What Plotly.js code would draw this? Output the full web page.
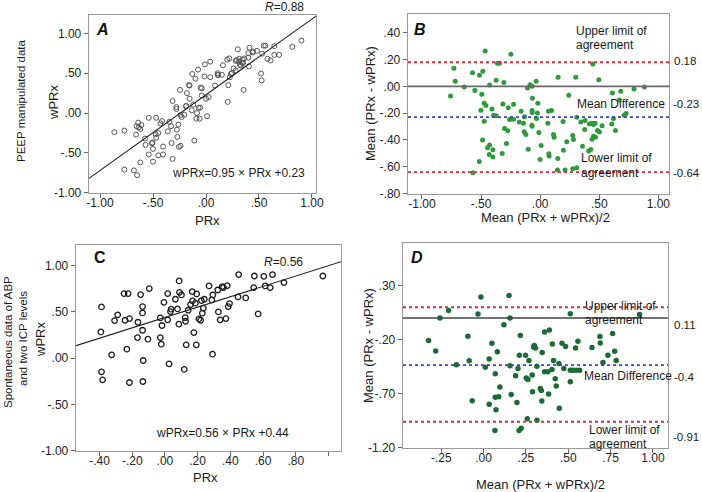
<!DOCTYPE html>
<html>
<head>
<meta charset="utf-8">
<script src="https://cdn.plot.ly/plotly-3.0.1.min.js"></script>
<style>
  html, body { margin: 0; padding: 0; background: #fff; }
  #chart { width: 702px; height: 492px; }
</style>
</head>
<body>
<div id="chart"></div>
<script>
// Panel A: PEEP manipulated data, wPRx vs PRx
const A_prx = [-0.865,-0.77,-0.77,-0.68,-0.65,-0.62,-0.66,-0.655,-0.64,-0.635,-0.61,-0.62,-0.575,-0.57,-0.54,-0.54,-0.51,-0.505,-0.50,-0.50,-0.47,-0.475,-0.47,-0.45,-0.45,-0.43,-0.415,-0.405,-0.405,-0.36,-0.345,-0.33,-0.325,-0.315,-0.315,-0.28,-0.28,-0.275,-0.27,-0.26,-0.255,-0.245,-0.24,-0.24,-0.23,-0.205,-0.19,-0.185,-0.18,-0.16,-0.155,-0.155,-0.135,-0.13,-0.12,-0.11,-0.10,-0.09,-0.085,-0.075,-0.07,-0.06,-0.055,-0.05,-0.04,-0.04,-0.015,-0.01,0.01,0.0,0.025,0.04,0.04,0.085,0.11,0.115,0.11,0.15,0.16,0.205,0.21,0.20,0.22,0.225,0.235,0.245,0.26,0.28,0.28,0.29,0.30,0.31,0.315,0.32,0.33,0.34,0.345,0.35,0.355,0.36,0.40,0.405,0.40,0.41,0.44,0.445,0.48,0.52,0.525,0.53,0.545,0.56,0.58,0.61,0.645,0.69,0.815,0.90,0.645];
const A_wprx = [-0.24,-0.22,-0.71,-0.72,-0.78,-0.62,-0.27,-0.165,-0.12,-0.18,-0.15,-0.20,-0.32,-0.40,-0.06,-0.52,-0.38,-0.37,-0.61,-0.45,-0.06,-0.265,-0.31,-0.53,-0.25,-0.13,-0.10,-0.42,-0.52,-0.23,-0.11,-0.165,-0.375,-0.575,0.15,0.075,0.05,-0.21,-0.30,-0.145,-0.425,0.29,-0.41,-0.025,-0.05,-0.02,0.085,0.09,0.25,0.35,0.345,0.18,0.035,0.49,0.105,-0.345,0.43,-0.07,0.0,0.545,0.065,-0.07,0.07,0.32,0.22,0.31,0.46,0.61,-0.04,0.18,0.20,0.645,0.45,0.345,0.48,0.475,0.50,0.48,0.60,0.14,0.35,0.67,0.685,0.45,0.49,0.50,0.56,0.535,0.655,0.665,0.80,0.645,0.68,0.605,0.595,0.63,0.67,0.63,0.29,0.685,0.695,0.585,0.75,0.82,0.76,0.77,0.78,0.495,0.41,0.745,0.845,0.845,0.68,0.66,0.73,0.73,0.83,0.91,0.84];
const A_fit = { slope: 0.95, intercept: 0.23 };

// Panel B: Bland-Altman, PEEP data
const B_mean = [-0.465,-0.248,-0.361,-0.344,-0.730,-0.572,-0.485,-0.513,-0.718,-0.372,-0.307,-0.428,-0.642,-0.758,-0.552,-0.493,-0.107,-0.085,-0.068,-0.034,-0.065,-0.473,-0.459,-0.315,-0.225,-0.270,-0.020,-0.501,-0.408,-0.394,-0.372,-0.161,-0.068,-0.068,-0.023,0.070,0.096,-0.132,-0.248,-0.225,-0.259,-0.031,-0.473,-0.177,-0.141,-0.070,-0.068,0.065,-0.301,-0.273,-0.135,-0.121,-0.011,0.113,0.118,-0.487,-0.428,-0.445,-0.400,-0.285,-0.321,-0.431,-0.400,-0.101,0.008,0.073,0.076,0.000,-0.515,-0.569,0.445,0.152,0.301,0.496,0.611,0.682,0.794,0.882,0.242,0.670,0.727,0.710,0.310,0.620,0.194,0.344,0.380,0.606,0.417,0.437,0.451,0.465,0.524,0.485,0.501,0.377,0.637,0.276,0.451,0.468,0.439,0.282,0.225,0.358,0.428,0.411,0.197,0.149,0.146,0.211,0.276,0.310];
const B_diff = [0.264,0.239,0.172,0.172,0.135,0.102,0.112,0.083,0.038,0.045,0.028,0.011,-0.004,-0.071,-0.031,-0.059,-0.012,0.013,0.001,0.038,-0.089,-0.126,-0.143,-0.131,-0.133,-0.160,-0.126,-0.178,-0.168,-0.215,-0.220,-0.185,-0.180,-0.195,-0.198,-0.185,-0.180,-0.227,-0.242,-0.245,-0.247,-0.240,-0.260,-0.265,-0.275,-0.290,-0.298,-0.275,-0.315,-0.332,-0.339,-0.359,-0.344,-0.359,-0.379,-0.401,-0.438,-0.458,-0.473,-0.426,-0.500,-0.508,-0.527,-0.470,-0.441,-0.503,-0.520,-0.545,-0.560,-0.644,0.167,0.068,0.068,0.050,-0.049,-0.036,-0.019,-0.004,-0.066,-0.101,-0.203,-0.215,-0.230,-0.240,-0.263,-0.265,-0.255,-0.280,-0.280,-0.275,-0.285,-0.275,-0.293,-0.330,-0.340,-0.322,-0.330,-0.367,-0.372,-0.379,-0.394,-0.397,-0.414,-0.446,-0.471,-0.483,-0.476,-0.538,-0.624,-0.624,-0.615,-0.608];
const B_limits = [0.18, -0.23, -0.64];   // upper, mean, lower
const B_limitText = ['0.18', '-0.23', '-0.64'];

// Panel C: spontaneous data of ABP and two ICP levels
const C_prx = [0.087,-0.096,-0.250,-0.225,-0.149,0.017,0.089,0.101,0.167,0.194,0.064,-0.006,0.169,0.186,0.223,0.241,-0.388,-0.137,0.157,0.038,0.034,0.077,0.142,0.235,-0.289,-0.137,0.229,-0.308,-0.244,-0.217,-0.028,0.017,0.124,0.208,0.218,-0.165,0.126,-0.018,0.085,-0.137,-0.392,0.177,-0.168,-0.104,-0.028,-0.022,0.130,0.192,-0.233,-0.326,-0.133,0.025,0.118,-0.388,-0.381,-0.217,-0.135,0.451,0.547,0.605,0.658,0.966,0.270,0.350,0.358,0.381,0.323,0.543,0.613,0.644,0.728,0.287,0.293,0.447,0.494,0.395,0.387,0.327,0.338,0.373,0.570,0.291];
const C_wprx = [0.835,0.752,0.698,0.698,0.687,0.698,0.712,0.683,0.719,0.694,0.637,0.604,0.619,0.594,0.622,0.637,0.554,0.558,0.579,0.529,0.504,0.532,0.518,0.540,0.468,0.489,0.486,0.406,0.410,0.428,0.435,0.414,0.439,0.424,0.410,0.388,0.399,0.353,0.367,0.302,0.284,0.277,0.223,0.205,0.223,0.151,0.144,0.144,0.097,0.036,-0.025,-0.061,-0.122,-0.147,-0.234,-0.263,-0.252,0.903,0.888,0.885,0.903,0.888,0.781,0.773,0.763,0.784,0.737,0.763,0.781,0.763,0.817,0.629,0.683,0.662,0.651,0.590,0.558,0.500,0.414,0.428,0.478,0.043];
const C_fit = { slope: 0.56, intercept: 0.44 };

// Panel D: Bland-Altman, spontaneous data
const D_mean = [-0.016,0.150,-0.207,-0.258,-0.033,0.156,0.120,-0.325,-0.093,0.217,-0.283,0.049,0.081,-0.161,-0.085,0.010,0.033,0.069,0.156,0.211,0.248,0.268,0.203,0.189,0.252,0.262,0.096,-0.067,0.069,0.089,0.163,0.033,0.197,0.073,0.258,0.067,0.209,0.222,0.512,0.921,0.360,0.388,0.299,0.307,0.295,0.406,0.463,0.484,0.557,0.543,0.640,0.687,0.689,0.762,0.734,0.774,0.346,0.315,0.413,0.445,0.474,0.512,0.528,0.547,0.567,0.287,0.360,0.380,0.404,0.512,0.423,0.289,0.335,0.341,0.384,0.429,0.344,0.447,0.315,0.705,0.783];
const D_diff = [0.195,0.208,0.069,0.001,0.038,0.001,-0.063,-0.208,-0.168,-0.162,-0.304,-0.233,-0.313,-0.433,-0.396,-0.455,-0.378,-0.516,-0.442,-0.344,-0.344,-0.393,-0.467,-0.535,-0.556,-0.568,-0.639,-0.766,-0.732,-0.729,-0.707,-0.799,-0.781,-0.849,-0.932,-1.040,-1.040,-1.021,0.041,0.032,-0.128,-0.110,-0.254,-0.276,-0.267,-0.239,-0.233,-0.264,-0.214,-0.276,-0.273,-0.171,-0.230,-0.143,-0.344,-0.307,-0.319,-0.445,-0.393,-0.421,-0.467,-0.482,-0.482,-0.482,-0.482,-0.528,-0.498,-0.498,-0.476,-0.590,-0.562,-0.682,-0.652,-0.670,-0.704,-0.630,-0.769,-0.836,-0.947,-0.411,-0.393];
const D_limits = [0.10, -0.435, -0.96];  // upper, mean, lower (as drawn)
const D_limitText = ['0.11', '-0.4', '-0.91'];

// tick labels
const tickA = [-1, -0.5, 0, 0.5, 1];
const tickAText = ['-1.00', '-.50', '.00', '.50', '1.00'];
const tickBy = [-0.8, -0.6, -0.4, -0.2, 0, 0.2, 0.4];
const tickByText = ['-.80', '-.60', '-.40', '-.20', '.00', '.20', '.40'];
const tickCx = [-0.4, -0.2, 0, 0.2, 0.4, 0.6, 0.8, 1.0];
const tickCxText = ['-.40', '-.20', '.00', '.20', '.40', '.60', '.80', ''];
const tickDx = [-0.25, 0, 0.25, 0.5, 0.75, 1.0];
const tickDxText = ['-.25', '.00', '.25', '.50', '.75', '1.00'];
const tickDy = [-1.2, -0.7, -0.2, 0.3];
const tickDyText = ['-1.20', '-.70', '-.20', '.30'];

const W = 702, H = 492;
const FONT = 'Liberation Sans, Arial, sans-serif';
const px = x => x / W;
const py = y => 1 - y / H;

const RANGES = {
  A: { x: [-1.104, 1.038], y: [-1.003, 1.23] },
  B: { x: [-1.118, 1.09], y: [-0.803, 0.54] },
  C: { x: [-0.544, 1.077], y: [-1.003, 1.223] },
  D: { x: [-0.476, 1.089], y: [-1.203, 0.695] }
};

function fitLine(f, r, xa, ya) {
  return {
    x: r, y: r.map(v => f.slope * v + f.intercept), xaxis: xa, yaxis: ya,
    mode: 'lines', line: { color: '#222', width: 1.1 }, hoverinfo: 'skip'
  };
}

const traces = [
  { x: A_prx, y: A_wprx, xaxis: 'x', yaxis: 'y', mode: 'markers',
    marker: { symbol: 'circle-open', size: 5, color: '#555', line: { width: 1 } } },
  fitLine(A_fit, RANGES.A.x, 'x', 'y'),
  { x: B_mean, y: B_diff, xaxis: 'x2', yaxis: 'y2', mode: 'markers',
    marker: { size: 5, color: '#2f9a3b' } },
  { x: C_prx, y: C_wprx, xaxis: 'x3', yaxis: 'y3', mode: 'markers',
    marker: { symbol: 'circle-open', size: 5.5, color: '#1a1a1a', line: { width: 1.3 } } },
  fitLine(C_fit, RANGES.C.x, 'x3', 'y3'),
  { x: D_mean, y: D_diff, xaxis: 'x4', yaxis: 'y4', mode: 'markers',
    marker: { size: 5.5, color: '#1c6b34' } }
];

function axis(domain, range, tv, tt, anchor, isX) {
  return {
    domain: domain, range: range, anchor: anchor, tickvals: tv, ticktext: tt,
    ticks: 'outside', ticklen: 4, tickcolor: '#666', tickwidth: 1,
    ticklabelstandoff: isX ? -6 : 0,
    showline: true, mirror: true, linecolor: '#999', linewidth: 1.3,
    showgrid: false, zeroline: false, fixedrange: true,
    tickfont: { family: FONT, size: 12, color: '#222' }
  };
}

// reference lines in the Bland-Altman panels
const RED = '#cf3040', BLUE = '#3a44c4';
function hline(y, xa, ya, color, dash, width) {
  return { type: 'line', xref: xa + ' domain', yref: ya, x0: 0, x1: 1, y0: y, y1: y,
           line: { color: color, width: width, dash: dash } };
}
const shapes = [
  hline(0, 'x2', 'y2', '#6a6a6a', 'solid', 1.8),
  hline(B_limits[0], 'x2', 'y2', RED, 'dot', 1.8),
  hline(B_limits[1], 'x2', 'y2', BLUE, 'dot', 1.8),
  hline(B_limits[2], 'x2', 'y2', RED, 'dot', 1.8),
  hline(0, 'x4', 'y4', '#444', 'solid', 1.4),
  hline(D_limits[0], 'x4', 'y4', RED, 'dot', 1.8),
  hline(D_limits[1], 'x4', 'y4', BLUE, 'dot', 1.8),
  hline(D_limits[2], 'x4', 'y4', RED, 'dot', 1.8)
];

function note(text, x, y, opts) {
  return Object.assign({
    text: text, xref: 'paper', yref: 'paper', x: px(x), y: py(y),
    showarrow: false, xanchor: 'center', yanchor: 'middle',
    font: { family: FONT, size: 12, color: '#1a1a1a' }
  }, opts || {});
}
const big = { family: FONT, size: 16, color: '#111' };
const title = { family: FONT, size: 13, color: '#1a1a1a' };
const side = { family: FONT, size: 11.5, color: '#1a1a1a' };
const left = { xanchor: 'left' };
const lim = { xanchor: 'left', font: { family: FONT, size: 11.5, color: '#1a1a1a' } };

const annotations = [
  // A
  note('<b><i>A</i></b>', 102, 29, { font: big }),
  note('<i>R</i>=0.88', 306, 7, { xanchor: 'right' }),
  note('wPRx=0.95 × PRx +0.23', 238, 173),
  note('PRx', 207, 220, { font: title }),
  note('wPRx', 53, 103, { textangle: -90, font: title }),
  note('PEEP manipulated data', 21, 101, { textangle: -90, font: side }),
  // B
  note('<b><i>B</i></b>', 420, 29, { font: big }),
  note('Upper limit of', 574, 31, left),
  note('agreement', 574, 45, left),
  note('Mean Difference', 575, 104, left),
  note('Lower limit of', 579, 158, left),
  note('agreement', 579, 173, left),
  note(B_limitText[0], 672, 61, lim),
  note(B_limitText[1], 671, 104, lim),
  note(B_limitText[2], 671, 173, lim),
  note('Mean (PRx - wPRx)', 370, 104, { textangle: -90, font: title }),
  note('Mean (PRx + wPRx)/2', 545, 217, { font: title }),
  // C
  note('<b>C</b>', 100, 257, { font: big }),
  note('<i>R</i>=0.56', 283, 262),
  note('wPRx=0.56 × PRx +0.44', 222, 433),
  note('PRx', 205, 477, { font: title }),
  note('wPRx', 40, 340, { textangle: -90, font: title }),
  note('Spontaneous data of ABP', 8, 342, { textangle: -90, font: side }),
  note('and two ICP levels', 23, 339, { textangle: -90, font: side }),
  // D
  note('<b><i>D</i></b>', 417, 257, { font: big }),
  note('Upper limit of', 583, 306, left),
  note('agreement', 583, 320, left),
  note('Mean Difference', 582, 376, left),
  note('Lower limit of', 587, 430, left),
  note('agreement', 587, 444, left),
  note(D_limitText[0], 672, 325, lim),
  note(D_limitText[1], 672, 377, lim),
  note(D_limitText[2], 671, 437, lim),
  note('Mean (PRx - wPRx)', 368, 346, { textangle: -90, font: title }),
  note('Mean (PRx + wPRx)/2', 540, 484, { font: title })
];

const layout = {
  width: W, height: H, margin: { l: 0, r: 0, t: 0, b: 0 },
  paper_bgcolor: '#fff', plot_bgcolor: '#fff', showlegend: false,
  font: { family: FONT },
  xaxis:  axis([px(89), px(316)], RANGES.A.x, tickA, tickAText, 'y', true),
  yaxis:  axis([py(193), py(15)], RANGES.A.y, tickA, tickAText, 'x', false),
  xaxis2: axis([px(408), px(669)], RANGES.B.x, tickA, tickAText, 'y2', true),
  yaxis2: axis([py(194), py(14)], RANGES.B.y, tickBy, tickByText, 'x2', false),
  xaxis3: axis([px(76), px(341)], RANGES.C.x, tickCx, tickCxText, 'y3', true),
  yaxis3: axis([py(451), py(245)], RANGES.C.y, tickA, tickAText, 'x3', false),
  xaxis4: axis([px(403), px(668)], RANGES.D.x, tickDx, tickDxText, 'y4', true),
  yaxis4: axis([py(448), py(243)], RANGES.D.y, tickDy, tickDyText, 'x4', false),
  shapes: shapes,
  annotations: annotations
};

Plotly.newPlot('chart', traces, layout, { displayModeBar: false, staticPlot: true });
</script>
</body>
</html>
